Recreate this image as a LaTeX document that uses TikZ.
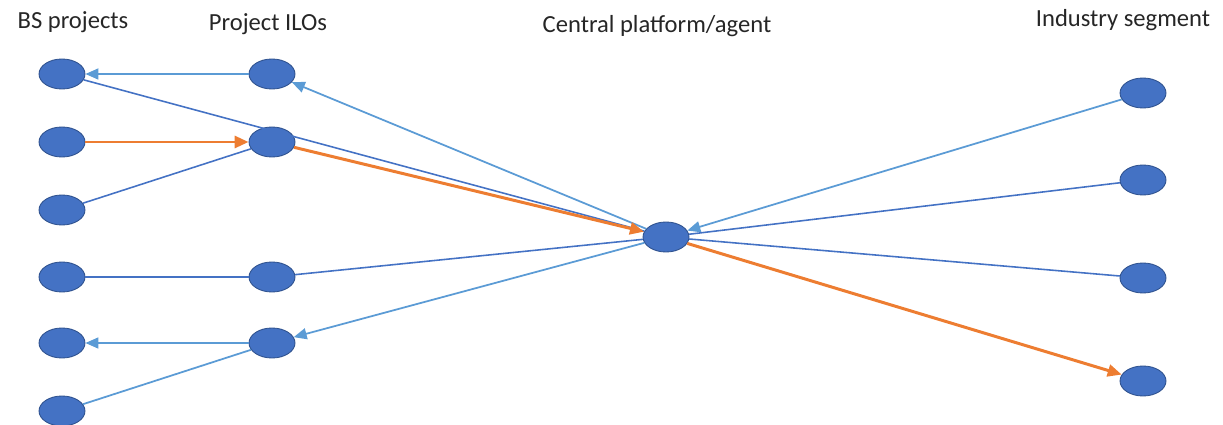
\documentclass[tikz,border=0pt]{standalone}
\usepackage{fontspec}
\setmainfont{Carlito}
\usetikzlibrary{arrows.meta,shapes.geometric}
\definecolor{nodefill}{HTML}{4472C4}
\definecolor{nodeline}{HTML}{2F528F}
\definecolor{lblue}{HTML}{5B9BD5}
\definecolor{dblue}{HTML}{4472C4}
\definecolor{orng}{HTML}{ED7D31}
\tikzset{
  every picture/.style={line width=0.6pt},
  dot/.style={draw=nodeline,fill=nodefill,ellipse,minimum width=9.2mm,minimum height=6mm,inner sep=0,line width=0.5pt},
  hdr/.style={font=\fontsize{14}{16}\selectfont,text=black!85,inner sep=1pt},
  lnk/.style={lblue,line width=1pt},
  thin/.style={dblue,line width=0.9pt},
  flow/.style={-{Triangle[length=2.6mm,width=2.2mm]},lblue,line width=1pt},
  hot/.style={-{Triangle[length=2.8mm,width=2.4mm]},orng,line width=1.7pt},
}
\begin{document}
\begin{tikzpicture}[x=0.02cm,y=-0.02cm]
\useasboundingbox (0,0) rectangle (1223,425);
% column headings
\node[hdr] (hBS) at (73,22) {BS projects};
\node[hdr] (hILO) at (268,24) {Project ILOs};
\node[hdr] (hC) at (657,26) {Central platform/agent};
\node[hdr] (hI) at (1123,20) {Industry segment};
% BS projects
\foreach \i/\y in {1/74,2/142,3/210,4/277,5/343,6/411}
  \node[dot] (B\i) at (62,\y) {};
% project ILOs
\foreach \i/\y in {1/74,2/142,4/277,5/343}
  \node[dot] (L\i) at (272,\y) {};
% central platform
\node[dot] (C) at (666,237) {};
% industry segment
\foreach \i/\y in {1/93,2/180,3/278,4/381}
  \node[dot] (I\i) at (1143,\y) {};
% links
\draw[flow] (L1) -- (B1);
\draw[thin] (C) -- (B1);
\draw[flow] (C) -- (L1);
\draw[hot] (B2) -- (L2);
\draw[hot] (L2) -- (C);
\draw[thin] (B3) -- (L2);
\draw[thin] (B4) -- (L4);
\draw[thin] (L4) -- (C);
\draw[flow] (C) -- (L5);
\draw[flow] (L5) -- (B5);
\draw[lnk] (B6) -- (L5);
\draw[flow] (I1) -- (C);
\draw[thin] (C) -- (I2);
\draw[thin] (C) -- (I3);
\draw[hot] (C) -- (I4);
\end{tikzpicture}
\end{document}
